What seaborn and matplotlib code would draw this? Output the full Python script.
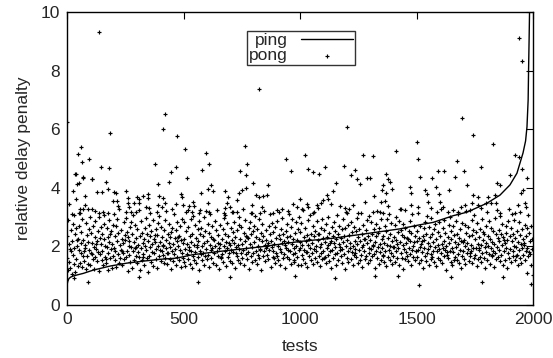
import numpy as np
import pandas as pd
import seaborn as sns
import matplotlib
matplotlib.use("Agg")
import matplotlib.pyplot as plt

# ping: sorted delay penalty (test, value)
ping_tests = [0, 3, 8, 15, 27, 45, 70, 112, 185, 257, 330, 399, 470, 541, 687,
              828, 1000, 1142, 1288, 1429, 1515, 1571, 1658, 1717, 1801, 1858,
              1901, 1931, 1957, 1968, 1974, 1979, 1981, 1983, 1985]
ping_values = [0.68, 0.8, 0.9, 0.95, 0.99, 1.03, 1.08, 1.19, 1.33, 1.43, 1.5,
               1.56, 1.6, 1.72, 1.86, 1.98, 2.17, 2.28, 2.44, 2.6, 2.74, 2.82,
               3.05, 3.17, 3.47, 3.75, 4.1, 4.5, 5.19, 5.6, 6.08, 7.0, 8.1, 9.0,
               10.0]

# pong: dense band, one sample every second test (rough estimate of the cloud)
pong_0_500 = [
    1.62, 2.35, 1.18, 2.91, 1.47, 2.08, 1.92, 1.26, 1.83, 2.57, 1.05, 2.19, 1.71, 2.76, 1.39, 3.08, 1.94, 2.44, 1.12, 2.63, 1.58, 2.21, 2.02, 1.33, 2.27,
    1.88, 2.69, 1.44, 3.15, 2.11, 1.76, 2.48, 1.29, 2.95, 1.66, 2.23, 1.86, 1.51, 2.04, 1.93, 2.81, 1.22, 2.38, 1.69, 3.27, 2.15, 1.41, 2.59, 1.87, 2.99,
    1.35, 2.46, 1.78, 2.12, 1.74, 1.57, 2.71, 1.98, 1.24, 2.31, 2.86, 1.63, 2.09, 1.92, 2.17, 1.49, 2.54, 1.81, 3.02, 1.15, 2.28, 1.73, 2.65, 2.07, 1.54,
    2.42, 1.86, 3.19, 1.37, 2.24, 2.78, 1.65, 2.01, 1.58, 1.45, 1.97, 2.62, 1.19, 2.33, 1.79, 2.89, 2.14, 1.59, 2.44, 1.91, 2.51, 1.28, 2.09, 2.74, 1.68,
    1.95, 3.11, 1.52, 2.37, 1.84, 2.68, 1.31, 2.18, 2.93, 1.74, 2.45, 1.43, 3.29, 2.06, 1.61, 2.56, 1.89, 2.26, 1.83, 1.36, 2.13, 1.77, 2.84, 1.56, 2.39,
    2.21, 1.64, 2.97, 1.83, 2.49, 1.16, 2.32, 2.18, 1.72, 2.03, 2.67, 1.48, 1.99, 2.82, 1.27, 2.41, 3.06, 1.85, 2.16, 1.53, 2.73, 1.96, 1.97, 1.67, 2.29,
    1.42, 2.58, 2.05, 1.81, 3.23, 1.63, 2.36, 1.21, 2.87, 1.93, 2.47, 1.55, 2.11, 1.65, 1.75, 2.25, 1.38, 2.64, 2.01, 1.87, 2.96, 1.59, 2.43, 1.11, 2.19,
    2.72, 1.69, 2.34, 1.97, 3.13, 1.46, 2.52, 1.82, 2.08, 2.91, 1.34, 2.27, 1.76, 2.39, 2.14, 1.58, 2.61, 1.91, 2.38, 1.25, 2.79, 2.02, 1.66, 3.04, 1.89,
    2.15, 1.51, 2.66, 1.86, 2.31, 2.01, 1.71, 2.04, 1.44, 2.55, 2.89, 1.62, 2.21, 1.94, 1.77, 1.39, 2.42, 1.78, 2.12, 2.75, 1.57, 2.33, 1.98, 1.23, 2.49,
    1.84, 2.63, 2.07, 1.49, 3.09, 1.73, 2.28, 1.92, 2.57, 1.36, 2.18, 2.84, 1.65, 2.01, 2.31, 1.54, 2.36, 1.88, 2.69, 1.31, 2.23, 1.79, 2.94, 2.11, 1.61,
]
pong_500_1000 = [
    2.26, 1.47, 2.83, 1.92, 1.34, 2.51, 3.18, 1.75, 2.09, 1.58, 2.67, 1.99, 1.89, 1.41, 2.37, 1.83, 2.14, 2.92, 1.27, 2.44, 1.69, 3.03, 2.06, 1.53, 2.72,
    1.81, 2.29, 1.43, 2.06, 1.97, 2.58, 1.64, 2.17, 2.88, 1.19, 2.41, 1.86, 2.63, 1.74, 1.52, 2.03, 1.77, 2.34, 1.38, 2.99, 2.12, 1.67, 2.53, 1.91, 3.22,
    1.56, 2.19, 2.77, 1.71, 2.46, 1.29, 2.05, 3.12, 1.88, 2.31, 1.61, 2.68, 1.95, 2.27, 1.45, 2.22, 1.79, 2.86, 2.01, 1.37, 2.55, 1.84, 3.26, 2.13, 1.66,
    2.39, 1.93, 1.22, 2.74, 2.08, 1.64, 1.59, 2.27, 1.74, 2.61, 1.48, 2.96, 2.02, 1.85, 2.43, 3.07, 1.33, 2.16, 1.96, 2.79, 1.63, 2.35, 2.11, 1.78, 2.04,
    1.51, 2.64, 1.89, 2.21, 3.17, 1.42, 2.48, 1.82, 2.11, 2.85, 1.26, 2.32, 1.97, 1.79, 1.68, 2.57, 2.06, 1.55, 2.73, 1.91, 3.01, 1.44, 2.24, 1.76, 2.66,
    2.09, 1.62, 3.28, 1.87, 2.45, 1.35, 2.18, 2.91, 1.73, 2.37, 1.94, 2.33, 1.57, 2.28, 1.81, 2.62, 1.24, 2.07, 2.84, 1.66, 2.41, 3.14, 1.99, 1.46, 2.53,
    1.79, 2.71, 2.14, 1.53, 3.05, 1.86, 2.33, 1.39, 2.59, 2.01, 1.72, 2.94, 1.61, 2.26, 1.87, 1.92, 2.47, 1.18, 2.19, 2.78, 1.67, 2.36, 1.83, 3.21, 2.04,
    1.49, 2.56, 1.95, 2.23, 2.03, 1.71, 2.12, 1.58, 2.69, 1.88, 2.42, 3.09, 1.31, 2.17, 1.97, 2.81, 1.64, 2.49, 1.85, 1.62, 2.08, 1.43, 2.65, 1.77, 2.29,
    2.87, 1.68, 2.03, 1.54, 2.38, 3.19, 1.91, 2.25, 1.36, 2.61, 1.82, 2.96, 2.11, 1.59, 2.44, 2.18, 1.74, 2.06, 1.28, 2.52, 1.96, 2.77, 1.63, 2.31, 1.89,
    2.16, 3.11, 1.57, 2.34, 1.84, 2.67, 1.41, 2.09, 2.93, 1.73, 2.27, 1.93, 1.47, 1.52, 2.46, 1.79, 2.01, 2.83, 1.65, 2.22, 1.37, 2.58, 3.02, 1.87, 2.14,
]
pong_1000_1500 = [
    1.93, 2.48, 1.36, 2.79, 2.05, 1.71, 3.24, 1.58, 2.31, 1.87, 2.63, 1.45, 2.17, 1.81, 1.82, 2.39, 1.29, 2.06, 2.91, 1.67, 2.26, 1.95, 3.08, 1.54, 2.44,
    2.12, 1.76, 2.68, 1.39, 2.35, 3.16, 1.91, 1.62, 2.53, 2.02, 1.84, 2.87, 1.47, 2.21, 2.42, 1.69, 2.41, 1.98, 1.33, 2.64, 2.09, 1.78, 2.95, 1.56, 2.28,
    1.86, 2.57, 1.61, 1.64, 2.14, 1.42, 2.76, 1.94, 2.33, 1.71, 2.99, 2.04, 1.51, 2.46, 1.83, 2.13, 1.26, 2.19, 2.66, 1.88, 2.37, 1.59, 2.82, 2.11, 1.74,
    2.51, 1.97, 1.35, 2.24, 3.06, 1.79, 2.42, 1.55, 2.71, 2.07, 1.89, 1.99, 1.66, 2.29, 1.44, 2.58, 1.92, 2.15, 2.93, 1.73, 2.36, 1.23, 2.62, 2.01, 3.18,
    1.61, 2.23, 1.85, 2.74, 1.48, 2.38, 3.27, 1.96, 2.13, 1.57, 2.85, 1.81, 2.49, 2.03, 1.37, 2.67, 1.71, 1.76, 2.18, 1.92, 2.54, 1.63, 2.97, 2.08, 1.45,
    2.32, 1.87, 2.61, 1.53, 2.19, 3.13, 1.72, 2.44, 1.98, 1.31, 2.73, 2.06, 1.84, 2.26, 1.58, 2.27, 2.55, 1.69, 2.11, 2.89, 1.43, 2.34, 1.94, 3.04, 1.77,
    2.21, 1.52, 2.83, 1.91, 2.42, 1.66, 2.05, 2.01, 1.74, 2.59, 1.28, 2.16, 2.78, 1.86, 2.35, 1.61, 3.21, 1.97, 2.47, 1.39, 2.64, 2.09, 1.82, 2.92, 1.55,
    2.26, 1.95, 1.68, 1.71, 2.37, 1.47, 2.12, 2.69, 1.83, 2.53, 1.33, 2.04, 2.94, 1.64, 2.29, 1.89, 3.12, 1.54, 2.43, 2.02, 1.76, 2.81, 1.41, 2.18, 1.97,
    1.68, 2.31, 1.99, 2.72, 1.46, 2.22, 1.85, 3.01, 2.07, 1.59, 2.48, 1.93, 2.86, 1.37, 2.15, 3.29, 1.79, 2.56, 1.62, 2.39, 2.05, 1.24, 2.77, 1.91, 2.33,
    1.57, 2.64, 2.11, 1.81, 2.28, 1.69, 2.27, 1.49, 2.51, 1.96, 2.88, 1.73, 2.19, 1.35, 2.45, 3.09, 1.87, 2.03, 1.65, 2.71, 2.14, 1.52, 2.36, 1.86, 1.84,
]
pong_1500_2000 = [
    2.17, 1.63, 2.54, 1.88, 3.14, 1.42, 2.29, 1.97, 2.71, 1.55, 2.09, 1.81, 2.19, 2.36, 1.27, 2.62, 1.93, 2.21, 1.68, 2.84, 1.49, 2.43, 3.05, 1.76, 2.12,
    1.91, 2.67, 1.38, 2.31, 2.03, 1.74, 2.96, 1.57, 2.41, 1.63, 1.84, 2.14, 1.46, 2.58, 1.99, 2.77, 1.32, 2.24, 1.86, 3.19, 2.06, 1.61, 2.49, 1.92, 2.83,
    1.54, 2.35, 1.79, 3.27, 2.08, 1.43, 2.64, 1.95, 2.19, 1.67, 2.91, 1.87, 2.46, 1.21, 2.01, 1.82, 1.72, 2.33, 1.59, 2.72, 2.11, 1.83, 3.01, 1.48, 2.26,
    2.52, 1.94, 1.36, 2.69, 1.81, 2.38, 1.53, 1.64, 2.15, 1.97, 2.86, 1.52, 2.44, 2.07, 1.73, 3.11, 1.44, 2.28, 1.89, 2.59, 1.28, 2.18, 2.79, 1.66, 2.16,
    1.85, 2.23, 1.58, 2.74, 2.02, 1.39, 2.47, 3.21, 1.77, 2.13, 1.92, 2.66, 1.51, 2.34, 1.78, 1.69, 2.05, 1.84, 2.89, 1.45, 2.39, 1.96, 2.57, 1.62, 3.07,
    2.27, 1.71, 2.48, 1.93, 1.34, 2.81, 2.09, 1.56, 1.96, 1.88, 2.32, 1.65, 2.61, 2.04, 1.47, 2.94, 1.79, 2.22, 2.49, 1.59, 2.42, 1.97, 1.25, 2.68, 2.11,
    1.82, 3.16, 1.53, 2.37, 2.01, 1.74, 2.87, 1.41, 2.25, 1.94, 2.63, 1.72, 1.67, 2.16, 1.86, 2.53, 1.31, 2.08, 2.97, 1.76, 2.44, 1.58, 3.24, 1.98, 2.29,
    1.63, 2.56, 1.89, 2.18, 3.03, 1.49, 2.41, 1.72, 2.76, 2.06, 1.37, 2.33, 2.21, 1.84, 2.12, 1.55, 2.69, 1.95, 2.47, 1.26, 2.21, 2.88, 1.78, 3.29, 1.61,
    2.35, 1.91, 2.64, 1.46, 2.19, 3.12, 1.83, 2.43, 1.67, 2.02, 2.91, 1.54, 2.28, 1.99, 1.67, 1.72, 2.51, 1.38, 2.14, 2.82, 1.87, 2.39, 1.59, 3.18, 2.07,
    1.43, 2.58, 1.96, 2.26, 1.71, 2.04, 2.11, 1.52, 2.73, 1.85, 2.36, 1.09, 2.62, 1.94, 3.07, 1.66, 2.45, 1.81, 2.17, 1.75, 1.35, 2.69, 1.91, 2.24, 1.04,
]

pong_upper_tests = [
    36, 67, 53, 43, 109, 167, 27, 129, 150, 176, 203, 210, 253, 77, 40, 196,
    213, 219, 9, 79, 56, 70, 106, 121, 139, 20, 50, 160, 177, 260, 262, 267,
    299, 308, 327, 348, 348, 308, 289, 339, 353, 396, 411, 419, 389, 406, 439,
    391, 489, 494, 468, 499, 539, 522, 546, 521, 535, 574, 605, 619, 625, 605,
    571, 568, 611, 253, 275, 296, 386, 425, 451,
    678, 692, 728, 740, 750, 768, 800, 810, 825, 843, 857, 864, 685, 700, 678,
    674, 714, 793, 838, 788, 828, 731, 1153, 1143, 1117, 1120, 1100, 1090,
    1132, 1000, 971, 986, 1029, 1033, 1007, 1072, 1079, 1057, 1172, 1193,
    1229, 1279, 1318, 1258, 1246, 1286, 1300, 1200, 1250, 1315, 900, 921, 950,
    885,
    1378, 1388, 1356, 1396, 1352, 1370, 1366, 1346, 1378, 1342, 1356, 1514,
    1568, 1718, 1471, 1478, 1535, 1546, 1585, 1595, 1638, 1549, 1600, 1478,
    1506, 1435, 1449, 1563, 1614, 1635, 1657, 1707, 1743, 1764, 1807, 1836,
    1847, 1857, 1950, 1964, 1936, 1971, 1924, 1957, 1738, 1764, 1800, 1821,
    1843, 1692, 1678, 1728, 1778, 1857,
]
pong_upper_values = [
    4.46, 4.36, 4.17, 4.12, 4.29, 4.19, 3.89, 3.87, 3.85, 3.95, 3.87, 3.82,
    3.9, 3.71, 3.62, 3.55, 3.55, 3.38, 3.44, 3.41, 3.27, 3.27, 3.29, 3.22,
    3.15, 3.11, 3.15, 3.07, 3.13, 3.66, 3.47, 3.35, 3.68, 3.47, 3.73, 3.79,
    3.64, 3.61, 3.49, 3.35, 3.3, 3.72, 3.64, 3.47, 3.41, 3.35, 4.19, 4.12,
    3.78, 3.7, 3.44, 3.41, 3.5, 3.39, 3.38, 3.24, 3.18, 3.81, 3.95, 4.1, 3.9,
    3.47, 3.24, 3.13, 3.18, 3.18, 3.18, 3.18, 3.18, 3.22, 3.27,
    3.9, 3.7, 3.58, 3.81, 3.92, 3.98, 4.15, 3.75, 3.7, 3.72, 3.75, 4.1, 3.49,
    3.35, 3.3, 3.13, 3.18, 3.41, 3.35, 3.15, 3.13, 3.18, 4.15, 3.9, 3.74,
    3.63, 3.58, 3.49, 3.44, 3.61, 3.44, 3.35, 3.44, 3.35, 3.27, 3.41, 3.3,
    3.15, 3.38, 3.32, 3.41, 3.5, 3.72, 4.12, 4.3, 4.32, 4.32, 3.15, 3.15,
    3.18, 3.24, 3.28, 3.22, 3.13,
    4.3, 4.21, 4.1, 3.95, 3.92, 3.81, 3.56, 3.53, 3.38, 3.18, 3.13, 4.38,
    4.35, 4.1, 4.02, 3.81, 3.92, 3.79, 4.04, 3.78, 3.92, 3.53, 3.53, 3.41,
    3.35, 3.27, 3.24, 3.3, 3.35, 3.18, 3.24, 3.41, 3.75, 3.7, 3.7, 3.75, 4.15,
    4.1, 3.81, 3.47, 3.41, 3.35, 3.15, 3.92, 3.47, 3.41, 3.47, 3.47, 3.49,
    3.35, 3.18, 3.24, 3.3, 3.13,
]

# isolated pong points: high outliers and the lowest ones (test, value)
pong_out_tests = [0, 37, 47, 60, 63, 67, 95, 107, 137, 145, 180, 185, 378, 413,
                  421, 445, 468, 472, 506, 515, 579, 595, 609, 743, 764, 768,
                  773, 824, 940, 961, 1021, 1034, 1056, 1082, 1107, 1188, 1200,
                  1220, 1236, 1269, 1312, 1370, 1413, 1503, 1508, 1594, 1617,
                  1667, 1672, 1694, 1704, 1743, 1778, 1830, 1901, 1923, 1941,
                  1941, 1953, 1953, 1973,
                  30, 90, 310, 560, 700, 980, 1150, 1320, 1420, 1511, 1650,
                  1780, 1870, 1991]
pong_out_values = [6.26, 4.47, 5.15, 5.4, 4.89, 4.33, 4.98, 4.3, 9.33, 4.7,
                   4.68, 5.87, 4.81, 6.02, 6.53, 4.55, 4.7, 5.78, 5.32, 4.35,
                   4.61, 5.19, 4.81, 4.57, 5.42, 4.44, 4.81, 7.37, 5.0, 4.57,
                   5.12, 4.65, 4.54, 4.47, 4.7, 4.74, 6.09, 4.43, 4.61, 5.13,
                   5.07, 4.47, 5.27, 5.58, 4.97, 4.56, 4.59, 4.38, 4.93, 6.4,
                   4.57, 5.8, 4.71, 5.51, 4.44, 5.13, 9.11, 5.04, 8.34, 4.65,
                   4.33,
                   0.92, 0.8, 0.95, 0.79, 0.97, 0.99, 0.93, 0.98, 1.0, 0.68,
                   0.94, 0.78, 0.96, 0.73]

pong_band = pong_0_500 + pong_500_1000 + pong_1000_1500 + pong_1500_2000
pong = pd.DataFrame({
    "test": list(range(0, 2 * len(pong_band), 2)) + pong_upper_tests + pong_out_tests,
    "value": pong_band + pong_upper_values + pong_out_values,
})
ping = pd.DataFrame({"test": ping_tests, "value": ping_values})

sns.set_theme(style="white")
plt.rcParams["font.family"] = ["Liberation Sans", "DejaVu Sans"]

fig = plt.figure(figsize=(5.53, 3.58), dpi=100)
ax = fig.add_axes([0.1212, 0.148, 0.8427, 0.8184])

sns.lineplot(data=ping, x="test", y="value", ax=ax, color="black",
             linewidth=1.0, label="ping")
sns.scatterplot(data=pong, x="test", y="value", ax=ax, marker="+", s=10,
                color="black", linewidth=0.85, label="pong")

ax.set_xlim(0, 2000)
ax.set_ylim(0, 10)
ax.set_xticks([0, 500, 1000, 1500, 2000])
ax.set_yticks([0, 2, 4, 6, 8, 10])
ax.set_xlabel("tests", fontsize=12.5, labelpad=9)
ax.set_ylabel("relative delay penalty", fontsize=12.5, labelpad=7)
ax.tick_params(direction="in", length=5, width=0.8, labelsize=12.5,
               top=True, right=True, color="black", pad=5)
for s in ax.spines.values():
    s.set_color("black")
    s.set_linewidth(1.0)

leg = ax.legend(loc="upper left", bbox_to_anchor=(0.386, 0.935),
                markerfirst=False, fontsize=12.5, frameon=True, fancybox=False,
                borderpad=0.1, labelspacing=0.0, handlelength=3.0,
                handletextpad=0.8, borderaxespad=0, markerscale=1.0)
leg.get_frame().set_edgecolor("black")
leg.get_frame().set_linewidth(1.0)

fig.savefig("out.png", dpi=100)
